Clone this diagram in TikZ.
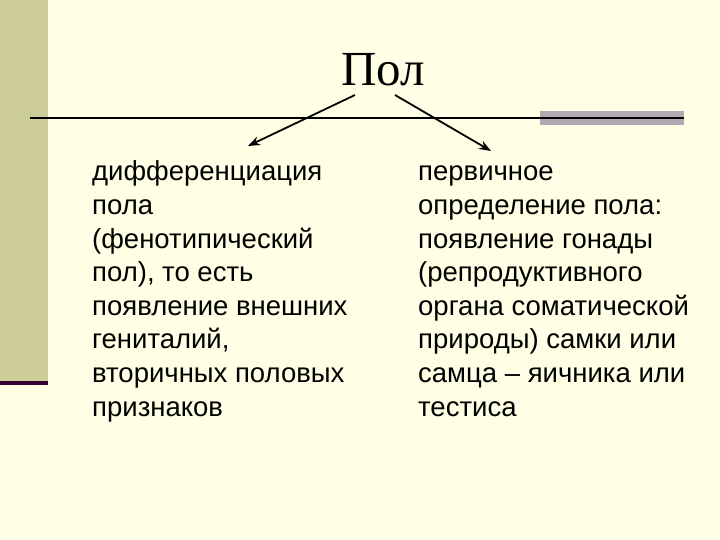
\documentclass[tikz,border=0pt]{standalone}
\usepackage{fontspec}
\setmainfont{Liberation Sans}
\newfontfamily\titlefont{Liberation Serif}
\definecolor{bg}{RGB}{255,255,229}
\definecolor{olive}{RGB}{204,204,153}
\definecolor{dpurple}{RGB}{51,0,51}
\definecolor{gbar}{RGB}{178,170,178}
\begin{document}
\begin{tikzpicture}[x=1pt,y=-1pt,
  col/.style={anchor=base west,align=left,inner sep=0pt,font=\fontsize{27.5}{33.6}\selectfont},
  arr/.style={-{Stealth[length=12pt,width=9pt]},line width=1.8pt,black}]
\usetikzlibrary{arrows.meta}
\fill[bg] (0,0) rectangle (720,540);
\useasboundingbox (0,0) rectangle (720,540);
\fill[olive] (0,0) rectangle (48,382);
\fill[dpurple] (0,381) rectangle (48,385);
\fill[gbar] (540,111) rectangle (684,125);
\draw[line width=1.5pt] (30,118) -- (684,118);
\node[font=\titlefont\fontsize{49}{52}\selectfont] (t) at (383,70) {Пол};
\coordinate (a1) at (355,95);
\coordinate (a2) at (248,146);
\coordinate (b1) at (395,95);
\coordinate (b2) at (491,151);
\draw[arr] (a1) -- (a2);
\draw[arr] (b1) -- (b2);
\node[col] (l) at (92,416) {дифференциация\\пола\\(фенотипический\\пол), то есть\\появление внешних\\гениталий,\\вторичных половых\\признаков};
\node[col] (r) at (418,416) {первичное\\определение пола:\\появление гонады\\(репродуктивного\\органа соматической\\природы) самки или\\самца – яичника или\\тестиса};
\end{tikzpicture}
\end{document}
